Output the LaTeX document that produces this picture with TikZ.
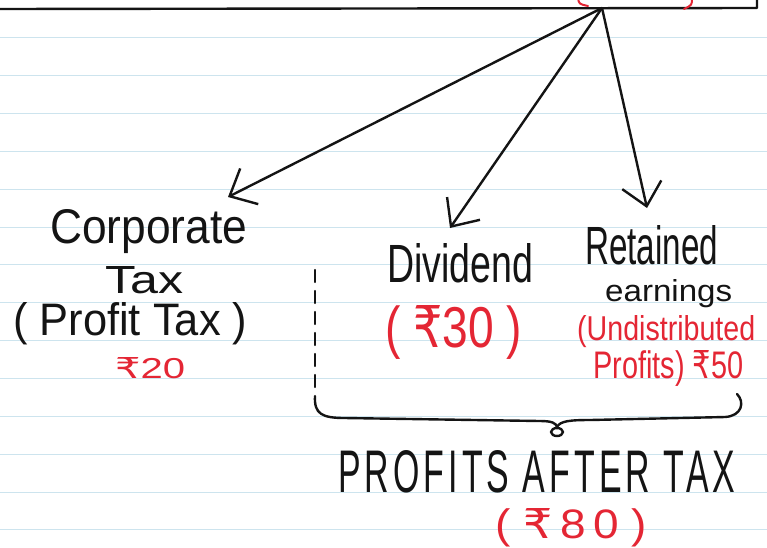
\documentclass[tikz,border=0pt]{standalone}
\usepackage{graphicx}
\usepackage{fontspec}
\setmainfont{Liberation Sans}
\newfontfamily\rsfont{DejaVu Sans}
\newcommand\Rs{{\rsfont ₹}}
\usetikzlibrary{arrows.meta}
\definecolor{ruled}{RGB}{205,228,238}
\definecolor{ink}{RGB}{20,20,20}
\definecolor{redink}{RGB}{228,38,52}
\tikzset{
  hand/.style={inner sep=0pt, anchor=base west, text=ink},
  redhand/.style={hand, text=redink},
  pen/.style={draw=ink, line width=2.4pt, line cap=round, line join=round},
  redpen/.style={draw=redink, line width=2pt, line cap=round},
  arrowpen/.style={pen, -{Straight Barb[length=22pt,width=40pt,line width=2.4pt]}},
}
\newcommand\hw[3]{\resizebox{#1pt}{#2pt}{#3}}
\begin{document}
\begin{tikzpicture}[x=1pt,y=-1pt]
\useasboundingbox (0,0) rectangle (767,547);
\fill[white] (0,0) rectangle (767,547);
\clip (0,0) rectangle (767,547);
% ruled paper
\foreach \i in {1,...,14} \draw[ruled, line width=1pt] (0,{\i*37.85}) -- (767,{\i*37.85});
% top box (cut off)
\draw[pen] (-5,9) -- (757,8) -- (757,-5);
\draw[redpen] (578,-2) .. controls (579,4) .. (588,6);
\draw[redpen] (692,-2) .. controls (692,5) .. (684,9);
% arrows
\coordinate (src) at (602,8);
\coordinate (tipC) at (228,197);
\coordinate (tipD) at (450,228);
\coordinate (tipR) at (647,208);
\draw[arrowpen] (src) -- (tipC);
\draw[arrowpen] (src) -- (tipD);
\draw[arrowpen] (src) -- (tipR);
% left column
\node[hand] (corp) at (50,243) {\hw{197}{34}{Corporate}};
\node[hand] (tax) at (105,293) {\hw{78}{27}{Tax}};
\node[hand] (ptax) at (13,335) {\hw{234}{33}{( Profit Tax )}};
\node[redhand] (r20) at (115,378) {\hw{70}{21}{\Rs20}};
% middle
\node[hand] (div) at (387,282) {\hw{146}{39}{Dividend}};
\node[redhand] (r30) at (385,347) {\hw{137}{42}{( \Rs30 )}};
% right
\node[hand] (ret) at (585,264) {\hw{133}{39}{Retained}};
\node[hand] (earn) at (605,301) {\hw{127}{22}{earnings}};
\node[redhand] (undist) at (577,340) {\hw{178}{25}{(Undistributed}};
\node[redhand] (r50) at (593,378) {\hw{150}{28}{Profits) \Rs50}};
% brace
\draw[pen, dash pattern=on 12pt off 9pt] (315,270) -- (315,394);
\draw[pen] (315,396) .. controls (314,414) and (322,418) .. (345,418) -- (540,421) .. controls (552,421) and (556,423) .. (557,427);
\draw[pen] (557,427) .. controls (560,421) and (570,420) .. (590,420) -- (725,417) .. controls (742,416) and (745,402) .. (737,394);
\draw[pen] (557,432) ellipse [x radius=6, y radius=4];
% bottom
\node[hand] (pat) at (338,492) {\hw{397}{42}{\addfontfeature{LetterSpace=12}PROFITS AFTER TAX}};
\node[redhand] (r80) at (495,538) {\hw{152}{30}{( \Rs\,8\,0 )}};
\end{tikzpicture}
\end{document}
